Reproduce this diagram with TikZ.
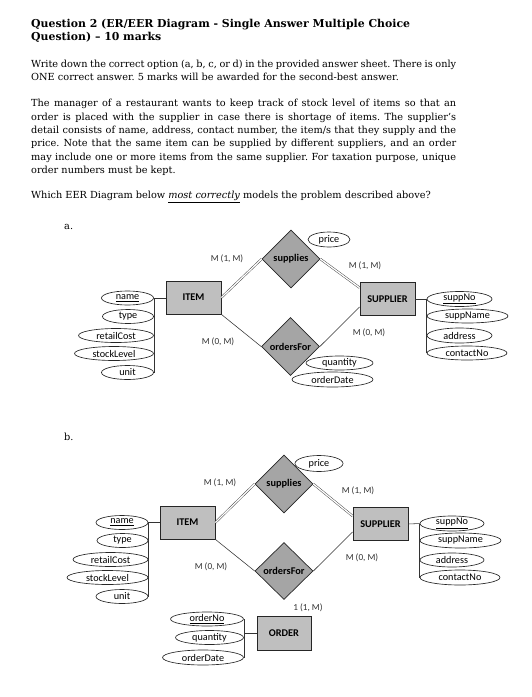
\documentclass[tikz,border=0pt]{standalone}
\usepackage{fontspec}
\setmainfont{DejaVu Serif}
\newfontfamily\diag{Carlito}
\usetikzlibrary{shapes.geometric}
\definecolor{entgray}{HTML}{BFBFBF}
\definecolor{relgray}{HTML}{A5A5A5}
\frenchspacing
\begin{document}
\begin{tikzpicture}[x=1pt,y=-1pt,
  ent/.style={draw=black!85, fill=entgray, line width=0.8pt, minimum width=55pt, minimum height=33pt, inner sep=0pt, font=\diag\bfseries\fontsize{10.3}{11}\selectfont},
  rel/.style={diamond, aspect=1, draw=black!85, fill=relgray, line width=0.7pt, minimum width=58pt, minimum height=58pt, inner sep=0pt, font=\diag\bfseries\fontsize{10.3}{11}\selectfont},
  attr/.style={ellipse, draw=black!85, fill=white, line width=0.65pt, inner sep=0pt, minimum height=14pt, font=\diag\fontsize{10.2}{11}\selectfont},
  card/.style={font=\diag\fontsize{9.2}{10}\selectfont, text=black!80, inner sep=0pt},
  ln/.style={draw=black!80, line width=0.55pt},
  dbl/.style={draw=black!75, double=white, double distance=1.3pt, line width=0.45pt},
  hdr/.style={anchor=base west, inner sep=0pt, font=\fontsize{9.75}{11}\selectfont},
  ttl/.style={anchor=base west, inner sep=0pt, font=\bfseries\fontsize{10.9}{12}\selectfont}]
\useasboundingbox (0,0) rectangle (532,697);
\fill[white] (0,0) rectangle (532,697);

% ---------- header text ----------
\node[ttl] (t1) at (31,27.3) {Question 2 (ER/EER Diagram - Single Answer Multiple Choice};
\node[ttl] (t2) at (31,40) {Question) – 10 marks};
\node[hdr] (p1a) at (31,67.3) {\makebox[425pt][s]{Write down the correct option (a, b, c, or d) in the provided answer sheet. There is only}};
\node[hdr] (p1b) at (31,80.7) {ONE correct answer. 5 marks will be awarded for the second-best answer.};
\node[hdr] (p2a) at (31,106.7) {\makebox[425pt][s]{The manager of a restaurant wants to keep track of stock level of items so that an}};
\node[hdr] (p2b) at (31,120) {\makebox[425pt][s]{order is placed with the supplier in case there is shortage of items. The supplier’s}};
\node[hdr] (p2c) at (31,133.3) {\makebox[425pt][s]{detail consists of name, address, contact number, the item/s that they supply and the}};
\node[hdr] (p2d) at (31,146.7) {\makebox[425pt][s]{price. Note that the same item can be supplied by different suppliers, and an order}};
\node[hdr] (p2e) at (31,160) {\makebox[425pt][s]{may include one or more items from the same supplier. For taxation purpose, unique}};
\node[hdr] (p2f) at (31,173.3) {order numbers must be kept.};
\node[hdr] (p3) at (31,198.3) {Which EER Diagram below \underline{\textit{most correctly}} models the problem described above?};

% ---------- diagram a ----------
\node[hdr] (la) at (64,229) {a.};
\node[ent] (itemA) at (193.5,297.5) {ITEM};
\node[ent] (supplierA) at (387.5,299) {SUPPLIER};
\node[rel] (supA) at (291,259) {supplies};
\node[rel] (ordA) at (290.5,346.5) {ordersFor};
\node[attr, minimum width=42pt, minimum height=15pt] (priceA) at (329,239.5) {price};
\node[attr, minimum width=67pt, minimum height=14pt] (qtyA) at (339.5,363) {quantity};
\node[attr, minimum width=81pt, minimum height=15pt] (odateA) at (332.5,379.5) {orderDate};

\node[attr, minimum width=52pt] (nameA) at (127.5,298) {\underline{name}};
\node[attr, minimum width=51pt] (typeA) at (128,316.5) {type};
\node[attr, minimum width=75pt] (rcostA) at (116,335.5) {retailCost};
\node[attr, minimum width=79pt] (slevA) at (114,353.5) {stockLevel};
\node[attr, minimum width=52pt] (unitA) at (127.5,372.5) {unit};

\node[attr, minimum width=65pt, minimum height=15pt] (snoA) at (459.5,299) {\underline{suppNo}};
\node[attr, minimum width=81pt, minimum height=14pt] (snameA) at (467.5,316) {suppName};
\node[attr, minimum width=65pt, minimum height=15pt] (addrA) at (459.5,335.5) {address};
\node[attr, minimum width=80pt, minimum height=14pt] (contA) at (467,353) {contactNo};

\draw[dbl] (itemA.east) -- (supA.west);
\draw[ln] (itemA.south east) -- (ordA.west);
\draw[dbl] (supA.east) -- (supplierA.158);
\draw[ln] (ordA.east) -- (supplierA.196);
\draw[ln] (nameA.east) -- (nameA.east -| itemA.west);
\draw[ln] (nameA.east) -- (unitA.east);
\draw[ln] (supplierA.east) -- (snoA.west);
\draw[ln] (snoA.west) -- (contA.west);

\node[card] (cA1) at (227,259) {M (1, M)};
\node[card] (cA2) at (218,342) {M (0, M)};
\node[card] (cA3) at (365,266) {M (1, M)};
\node[card] (cA4) at (369,333) {M (0, M)};

% ---------- diagram b ----------
\node[hdr] (lb) at (64,440) {b.};
\node[ent] (itemB) at (187.5,522.5) {ITEM};
\node[ent] (supplierB) at (380.5,524) {SUPPLIER};
\node[ent, minimum width=54pt, minimum height=34pt] (orderB) at (284,633) {ORDER};
\node[rel] (supB) at (284,484) {supplies};
\node[rel, minimum height=57pt] (ordB) at (284,571) {ordersFor};
\node[attr, minimum width=48pt, minimum height=16pt] (priceB) at (319,463.5) {price};

\node[attr, minimum width=52pt] (nameB) at (122,522.5) {\underline{name}};
\node[attr, minimum width=51pt] (typeB) at (122.5,540.5) {type};
\node[attr, minimum width=75pt] (rcostB) at (110.5,559.5) {retailCost};
\node[attr, minimum width=81pt] (slevB) at (107.5,577.5) {stockLevel};
\node[attr, minimum width=52pt] (unitB) at (122,596.5) {unit};

\node[attr, minimum width=64pt, minimum height=15pt] (snoB) at (452,523.5) {\underline{suppNo}};
\node[attr, minimum width=81pt, minimum height=15pt] (snameB) at (460.5,540.5) {suppName};
\node[attr, minimum width=64pt, minimum height=14pt] (addrB) at (452,560) {address};
\node[attr, minimum width=80pt, minimum height=15pt] (contB) at (460,577.5) {contactNo};

\node[attr, minimum width=73pt, minimum height=14pt] (onoB) at (207,619) {\underline{orderNo}};
\node[attr, minimum width=68pt, minimum height=14pt] (qtyB) at (209.5,637.5) {quantity};
\node[attr, minimum width=81pt, minimum height=15pt] (odateB) at (203,657.5) {orderDate};

\draw[dbl] (itemB.east) -- (supB.west);
\draw[ln] (itemB.south east) -- (ordB.west);
\draw[dbl] (supB.east) -- (supplierB.164);
\draw[ln] (ordB.east) -- (supplierB.196);
\draw[dbl] (ordB.south) -- (orderB.north);
\draw[ln] (nameB.east) -- (nameB.east -| itemB.west);
\draw[ln] (nameB.east) -- (unitB.east);
\draw[ln] (supplierB.east) -- (snoB.west);
\draw[ln] (snoB.west) -- (contB.west);
\draw[ln] (orderB.west) -- (orderB.west -| onoB.east);
\draw[ln] (onoB.east) -- (odateB.east);

\node[card] (cB1) at (220,483) {M (1, M)};
\node[card] (cB2) at (211,567) {M (0, M)};
\node[card] (cB3) at (358,491) {M (1, M)};
\node[card] (cB4) at (362,558) {M (0, M)};
\node[card] (cB5) at (308,608) {1 (1, M)};
\end{tikzpicture}
\end{document}
